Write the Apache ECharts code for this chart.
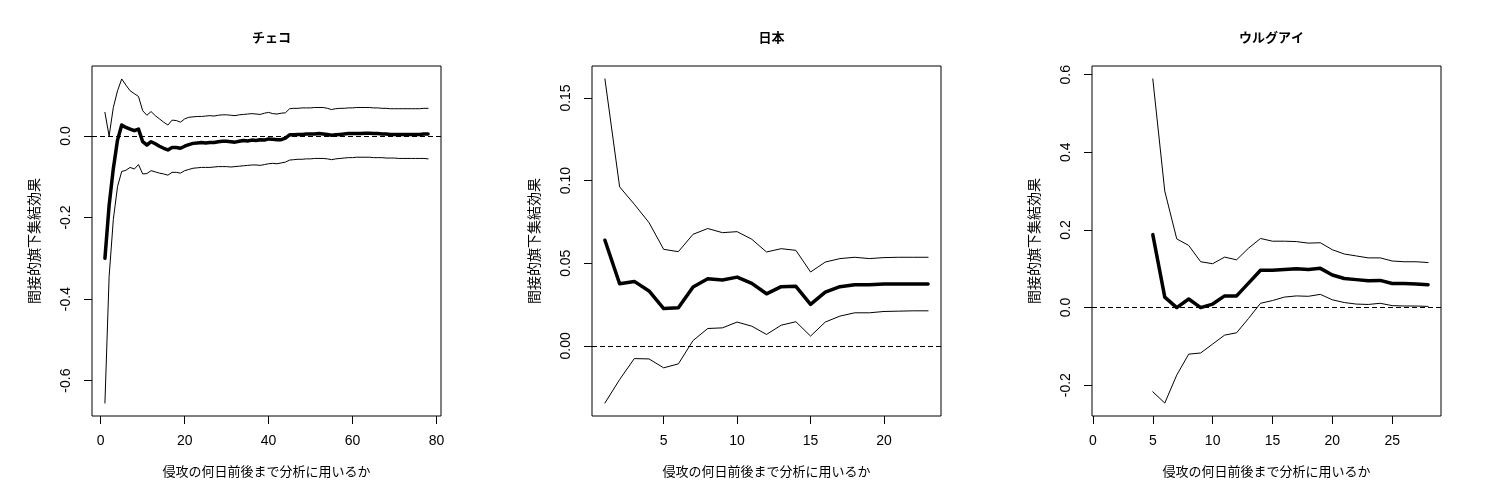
<!DOCTYPE html>
<html>
<head>
<meta charset="utf-8">
<script src="https://cdn.jsdelivr.net/npm/echarts@6/dist/echarts.min.js"></script>
<style>
  html, body { margin: 0; padding: 0; background: #fff; }
  #chart { width: 1500px; height: 500px; }
</style>
</head>
<body>
<div id="chart"></div>
<script>
// ---------------- Data ----------------
const titles = ['チェコ', '日本', 'ウルグアイ'];
const xAxisName = '侵攻の何日前後まで分析に用いるか';
const yAxisName = '間接的旗下集結効果';

// Czech (days 1..78)
const czStart = 1;
const czMid = [-0.300,-0.170,-0.080,-0.010,0.027,0.021,0.017,0.013,0.017,-0.014,
  -0.022,-0.014,-0.019,-0.025,-0.030,-0.034,-0.028,-0.028,-0.030,-0.025,
  -0.021,-0.018,-0.017,-0.016,-0.017,-0.016,-0.016,-0.014,-0.013,-0.013,
  -0.014,-0.015,-0.013,-0.011,-0.012,-0.010,-0.011,-0.009,-0.010,-0.007,
  -0.008,-0.009,-0.009,-0.005,0.003,0.003,0.004,0.004,0.005,0.005,
  0.005,0.006,0.005,0.004,0.002,0.003,0.004,0.005,0.006,0.006,
  0.006,0.006,0.007,0.007,0.006,0.006,0.005,0.005,0.004,0.004,
  0.004,0.004,0.004,0.004,0.004,0.004,0.005,0.005];
const czUpper = [0.058,0.000,0.070,0.111,0.140,0.125,0.111,0.104,0.097,0.062,
  0.051,0.060,0.050,0.042,0.034,0.027,0.039,0.038,0.034,0.042,
  0.046,0.047,0.048,0.048,0.049,0.050,0.049,0.051,0.052,0.052,
  0.051,0.050,0.052,0.053,0.054,0.055,0.054,0.053,0.056,0.058,
  0.055,0.054,0.056,0.057,0.067,0.068,0.068,0.069,0.069,0.069,
  0.070,0.070,0.070,0.068,0.065,0.067,0.068,0.068,0.069,0.069,
  0.070,0.070,0.070,0.070,0.069,0.069,0.068,0.068,0.067,0.067,
  0.067,0.067,0.067,0.067,0.067,0.067,0.068,0.068];
const czLower = [-0.655,-0.345,-0.205,-0.124,-0.087,-0.084,-0.077,-0.081,-0.070,-0.093,
  -0.092,-0.085,-0.088,-0.091,-0.093,-0.096,-0.089,-0.089,-0.091,-0.085,
  -0.082,-0.079,-0.078,-0.077,-0.077,-0.077,-0.076,-0.075,-0.075,-0.075,
  -0.076,-0.075,-0.074,-0.073,-0.072,-0.071,-0.071,-0.072,-0.070,-0.068,
  -0.067,-0.068,-0.066,-0.064,-0.059,-0.058,-0.057,-0.057,-0.056,-0.056,
  -0.055,-0.055,-0.055,-0.056,-0.058,-0.056,-0.055,-0.054,-0.053,-0.053,
  -0.052,-0.052,-0.052,-0.052,-0.053,-0.053,-0.053,-0.054,-0.054,-0.054,
  -0.055,-0.055,-0.055,-0.055,-0.055,-0.055,-0.055,-0.056];

// Japan (days 1..23)
const jpStart = 1;
const jpMid = [0.0639,0.0376,0.0390,0.0332,0.0226,0.0230,0.0356,0.0406,0.0398,0.0416,
  0.0378,0.0315,0.0358,0.0360,0.0251,0.0325,0.0358,0.0370,0.0370,0.0374,
  0.0374,0.0374,0.0374];
const jpUpper = [0.1615,0.0962,0.0857,0.0746,0.0584,0.0570,0.0675,0.0710,0.0685,0.0691,
  0.0645,0.0568,0.0588,0.0578,0.0447,0.0507,0.0528,0.0536,0.0528,0.0534,
  0.0536,0.0536,0.0536];
const jpLower = [-0.0346,-0.0204,-0.0077,-0.0079,-0.0133,-0.0109,0.0032,0.0105,0.0109,0.0144,
  0.0119,0.0069,0.0125,0.0146,0.0059,0.0144,0.0180,0.0200,0.0200,0.0208,
  0.0210,0.0212,0.0212];

// Uruguay (days 5..28)
const uyStart = 5;
const uyMid = [0.188,0.027,0.000,0.022,0.000,0.009,0.030,0.030,0.063,0.096,
  0.096,0.098,0.100,0.098,0.101,0.084,0.075,0.072,0.069,0.070,
  0.062,0.062,0.061,0.059];
const uyUpper = [0.589,0.300,0.177,0.160,0.118,0.113,0.130,0.123,0.153,0.178,
  0.171,0.171,0.170,0.166,0.167,0.149,0.138,0.133,0.128,0.128,
  0.120,0.118,0.118,0.116];
const uyLower = [-0.217,-0.246,-0.174,-0.120,-0.117,-0.094,-0.071,-0.065,-0.028,0.011,
  0.018,0.027,0.030,0.029,0.034,0.020,0.013,0.009,0.008,0.011,
  0.005,0.004,0.004,0.003];

const xlims = [[1, 78], [1, 23], [1, 28]];
const xTickValues = [[0, 20, 40, 60, 80], [5, 10, 15, 20], [0, 5, 10, 15, 20, 25]];
const yTickValues = [[-0.6, -0.4, -0.2, 0.0], [0.00, 0.05, 0.10, 0.15], [-0.2, 0.0, 0.2, 0.4, 0.6]];
const yDecimals = [1, 2, 1];

// ---------------- Build ----------------
const panels = [
  { start: czStart, mid: czMid, up: czUpper, lo: czLower },
  { start: jpStart, mid: jpMid, up: jpUpper, lo: jpLower },
  { start: uyStart, mid: uyMid, up: uyUpper, lo: uyLower }
];

function ext(a, b) { const r = b - a; return [a - 0.04 * r, b + 0.04 * r]; }
function pairs(start, arr) { return arr.map((v, i) => [start + i, v]); }

const FONT = "'Liberation Sans', Arial, 'Noto Sans CJK JP', sans-serif";
const gridLefts = [92, 592, 1092];
const GW = 349, GT = 66, GH = 350;

const option = {
  animation: false,
  backgroundColor: '#fff',
  title: [], grid: [], xAxis: [], yAxis: [], series: []
};

panels.forEach((p, k) => {
  const all = p.mid.concat(p.up, p.lo);
  const yr = ext(Math.min(...all), Math.max(...all));
  const xr = ext(xlims[k][0], xlims[k][1]);
  option.title.push({
    text: titles[k],
    left: gridLefts[k] + GW / 2, top: 27, textAlign: 'center',
    textStyle: { fontFamily: FONT, fontSize: 13, fontWeight: 'bold', color: '#000' }
  });
  option.grid.push({
    left: gridLefts[k], top: GT, width: GW, height: GH,
    show: true, borderColor: '#000', borderWidth: 1, backgroundColor: 'transparent'
  });
  option.xAxis.push({
    type: 'value', gridIndex: k, min: xr[0], max: xr[1],
    name: xAxisName, nameLocation: 'middle', nameGap: 50,
    nameTextStyle: { fontFamily: FONT, fontSize: 13, color: '#000' },
    axisLine: { show: false, onZero: false },
    axisTick: { show: true, inside: false, length: 8, customValues: xTickValues[k],
      lineStyle: { color: '#000', width: 1 } },
    axisLabel: { show: true, customValues: xTickValues[k], margin: 18,
      fontFamily: FONT, fontSize: 14, color: '#000',
      formatter: v => String(Math.round(v)) },
    splitLine: { show: false }
  });
  option.yAxis.push({
    type: 'value', gridIndex: k, min: yr[0], max: yr[1],
    name: yAxisName, nameLocation: 'middle', nameGap: 50, nameRotate: 90,
    nameTextStyle: { fontFamily: FONT, fontSize: 14, color: '#000' },
    axisLine: { show: false, onZero: false },
    axisTick: { show: true, inside: false, length: 8, customValues: yTickValues[k],
      lineStyle: { color: '#000', width: 1 } },
    axisLabel: { show: true, customValues: yTickValues[k], margin: 19, rotate: 90,
      fontFamily: FONT, fontSize: 14, color: '#000',
      formatter: v => Number(v).toFixed(yDecimals[k]) },
    splitLine: { show: false }
  });
  const base = { type: 'line', xAxisIndex: k, yAxisIndex: k, showSymbol: false, symbol: 'none',
    silent: true, clip: true };
  option.series.push(Object.assign({}, base, {
    data: pairs(p.start, p.up),
    lineStyle: { color: '#000', width: 1, cap: 'round', join: 'round' },
    markLine: { silent: true, symbol: 'none', label: { show: false },
      lineStyle: { color: '#000', width: 1, type: [5, 3] },
      data: [{ yAxis: 0 }] }
  }));
  option.series.push(Object.assign({}, base, {
    data: pairs(p.start, p.lo),
    lineStyle: { color: '#000', width: 1, cap: 'round', join: 'round' }
  }));
  option.series.push(Object.assign({}, base, {
    data: pairs(p.start, p.mid),
    lineStyle: { color: '#000', width: 3.5, cap: 'round', join: 'round' }
  }));
});

const chart = echarts.init(document.getElementById('chart'), null, { renderer: 'canvas' });
chart.setOption(option);
</script>
</body>
</html>
